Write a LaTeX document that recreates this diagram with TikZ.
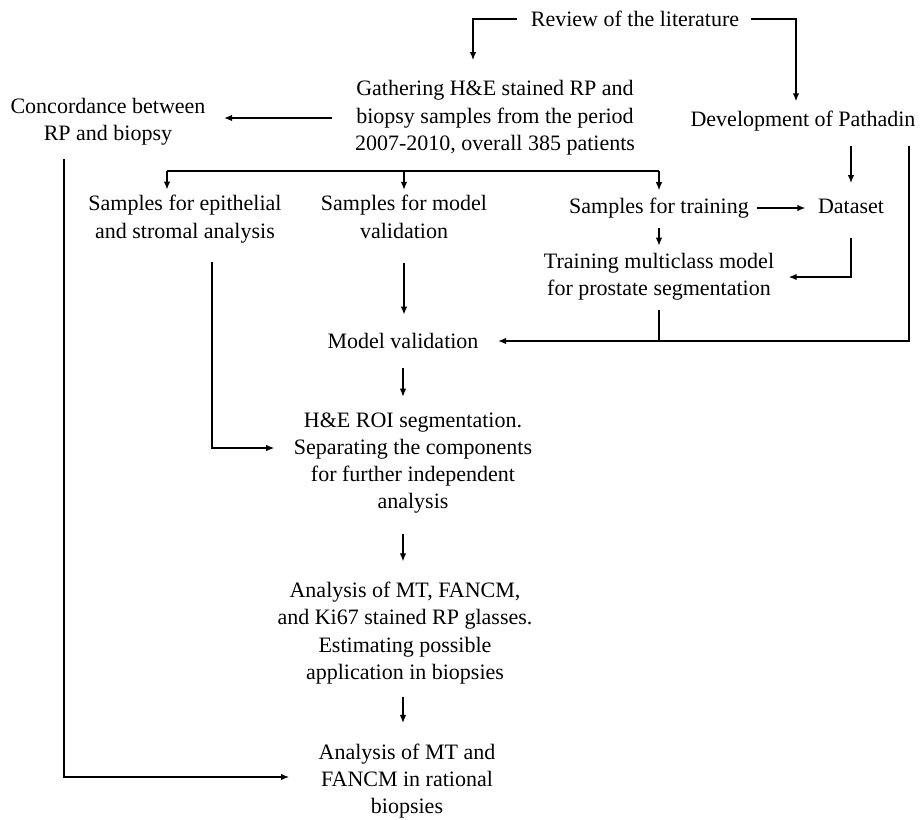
\documentclass[tikz,border=0pt]{standalone}
\usepackage{fontspec}
\setmainfont{Liberation Serif}
\usepackage{tikz}
\usetikzlibrary{arrows.meta, calc}

\begin{document}
\begin{tikzpicture}[
        x=1pt, y=-1pt,
        every node/.style={align=center, inner sep=0pt, font=\fontsize{22}{27.3}\selectfont},
        line width=1.3pt,
        >={Latex[length=8pt, width=6.5pt]}
    ]
    \useasboundingbox (0,0) rectangle (922,820);

    \node (lit) at (635,19) {Review of the literature};
    \node (gather) at (495,118) {Gathering H\&E stained RP and\\biopsy samples from the period\\2007-2010, overall 385 patients};
    \node (conc) at (108,122) {Concordance between\\RP and biopsy};
    \node (pathadin) at (803,121) {Development of Pathadin};
    \node (epi) at (185,219) {Samples for epithelial\\and stromal analysis};
    \node (valid) at (404,217) {Samples for model\\validation};
    \node (train) at (659,208) {Samples for training};
    \node (dataset) at (851,206) {Dataset};
    \node (multi) at (659,277) {Training multiclass model\\for prostate segmentation};
    \node (mval) at (403,341) {Model validation};
    \node (roi) at (413,463) {H\&E ROI segmentation.\\Separating the components\\for further independent\\analysis};
    \node (mt) at (405,633) {Analysis of MT, FANCM,\\and Ki67 stained RP glasses.\\Estimating possible\\application in biopsies};
    \node (rational) at (407,781) {Analysis of MT and\\FANCM in rational\\biopsies};
    \coordinate (split) at ([yshift=-15pt]gather.south);

    \draw[->, shorten <=13pt, shorten >=20pt] (lit.west) -| ($(gather.north)+(-22,0)$);
    \draw[->, shorten <=11pt, shorten >=9pt] (lit.east) -| ($(pathadin.north)+(-7,0)$);
    \draw[->, shorten <=22pt, shorten >=18pt] (gather.west) -- (gather.west -| conc.east);

    \draw ($(epi.north |- split)+(-18,0)$) -- (train.north |- split);
    \draw[->, shorten >=5pt] ($(epi.north |- split)+(-18,0)$) -- ($(epi.north)+(-18,0)$);
    \draw[->, shorten >=5pt] (valid.north |- split) -- (valid.north);
    \draw[->, shorten >=7pt] (train.north |- split) -- (train.north);

    \draw[->, shorten <=8pt, shorten >=12pt] (train.east) -- (train.east -| dataset.west);
    \draw[->, shorten <=9pt, shorten >=7pt] (train.south) -- (multi.north);
    \draw[->, shorten <=14pt, shorten >=15pt] (dataset.north |- pathadin.south) -- (dataset.north);
    \draw[->, shorten <=24pt, shorten >=14pt] (dataset.south) |- (multi.east);

    \draw[shorten <=9pt] (multi.south) -- (multi.south |- mval.east);
    \draw[->, shorten >=19pt] ($(pathadin.south east)+(-7,14)$) |- (mval.east);
    \draw[->, shorten <=24pt, shorten >=18pt] (valid.south) -- (valid.south |- mval.north);
    \draw[->, shorten <=19pt, shorten >=15pt] (mval.south) -- (mval.south |- roi.north);
    \draw[->, shorten <=19pt, shorten >=19pt] ($(epi.south)+(27,0)$) |- ($(roi.west)+(0,-15)$);
    \draw[->, shorten <=20pt, shorten >=20pt] (roi.south -| mval.south) -- (mt.north -| mval.south);
    \draw[->, shorten <=12pt, shorten >=20pt] (mt.south -| mval.south) -- (rational.north -| mval.south);
    \draw[->, shorten <=13pt, shorten >=29pt] ($(conc.south)+(-44,0)$) |- ($(rational.west)+(0,-4)$);

\end{tikzpicture}
\end{document}
